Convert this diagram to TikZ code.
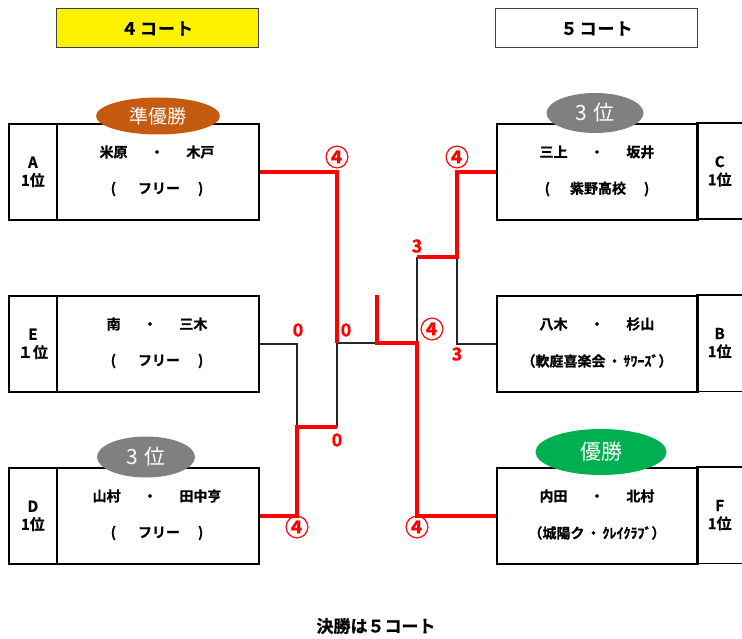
\documentclass[tikz,border=0pt]{standalone}
\usepackage{fontspec}
\setmainfont{Noto Sans CJK JP}[BoldFont={Noto Sans CJK JP Bold}, BoldFeatures={FakeBold=0.8}]
\usetikzlibrary{shapes.geometric}
\definecolor{runnerup}{HTML}{C55A11}
\definecolor{thirdgray}{HTML}{808080}
\definecolor{wingreen}{HTML}{00B050}
\newcommand\sepgap{\hspace{1.6em}・\hspace{1.6em}}
\begin{document}
\begin{tikzpicture}[x=1pt,y=-1pt,
  mainbox/.style={draw, line width=1.8pt, minimum width=202pt, minimum height=96pt, anchor=north west, inner sep=0pt},
  rankbox/.style={draw, line width=1.8pt, minimum width=48pt, minimum height=96pt, anchor=north west, inner sep=0pt, align=center, font=\bfseries\fontsize{15}{18}\selectfont},
  rankopen/.style={minimum width=45pt, minimum height=96pt, anchor=north west, inner sep=0pt, align=center, font=\bfseries\fontsize{15}{18}\selectfont},
  hdr/.style={draw=black!75, line width=1pt, minimum width=202pt, minimum height=39pt, font=\bfseries\fontsize{17}{18}\selectfont},
  nm/.style={font=\bfseries\fontsize{14}{16}\selectfont, inner sep=0pt},
  badge/.style={ellipse, text=white, inner sep=0pt},
  sc/.style={text=red, font=\bfseries\fontsize{18}{18}\selectfont, inner sep=0pt},
  circ/.style={text=red, font=\bfseries\fontsize{24}{24}\selectfont, inner sep=0pt},
  bk/.style={draw=black!85, line width=1.3pt},
  rd/.style={draw=red, line width=4pt}]
\useasboundingbox (0,0) rectangle (742,639);

% headers
\node[hdr, fill=yellow] (h4) at (157,28.5) {４\hspace{2pt}コ\hspace{1pt}ー\hspace{1pt}ト};
\node[hdr, fill=white] (h5) at (596.5,28.5) {５\hspace{2pt}コ\hspace{1pt}ー\hspace{1pt}ト};

% left boxes
\node[rankbox] (Ar) at (8,123) {A\\1位};
\node[mainbox] (Am) at (56,123) {};
\node[rankbox] (Er) at (8,295) {E\\１位};
\node[mainbox] (Em) at (56,295) {};
\node[rankbox] (Dr) at (8,467) {D\\1位};
\node[mainbox] (Dm) at (56,467) {};

% right boxes
\node[mainbox, minimum width=201pt] (Cm) at (496,123) {};
\node[rankopen] (Cr) at (697,123) {C\\1位};
\node[mainbox, minimum width=201pt] (Bm) at (496,295) {};
\node[rankopen] (Br) at (697,295) {B\\1位};
\node[mainbox, minimum width=201pt] (Fm) at (496,467) {};
\node[rankopen] (Fr) at (697,467) {F\\1位};
\foreach \r in {Cr,Br,Fr}{
  \draw[line width=1.8pt] (\r.north east) -- (\r.north west) -- (\r.south west) -- (\r.south east);
}

% names
\node[nm] (An1) at (157,152) {米原\sepgap 木戸};
\node[nm] (An2) at (157,189) {(\hspace{22pt}フリー\hspace{18pt})};
\node[nm] (En1) at (157,324) {南\sepgap 三木};
\node[nm] (En2) at (157,361) {(\hspace{22pt}フリー\hspace{18pt})};
\node[nm] (Dn1) at (157,496) {山村\sepgap 田中亨};
\node[nm] (Dn2) at (157,533) {(\hspace{22pt}フリー\hspace{18pt})};
\node[nm] (Cn1) at (597,152) {三上\sepgap 坂井};
\node[nm] (Cn2) at (597,189) {(\hspace{20pt}紫野高校\hspace{18pt})};
\node[nm] (Bn1) at (597,324) {八木\sepgap 杉山};
\node[nm] (Bn2) at (597,361) {（軟庭喜楽会\hspace{2pt}・\hspace{2pt}ｻﾜｰｽﾞ）};
\node[nm] (Fn1) at (597,496) {内田\sepgap 北村};
\node[nm] (Fn2) at (597,533) {（城陽ク\hspace{2pt}・\hspace{2pt}ｸﾚｲｸﾗﾌﾞ）};

% badges
\node[badge, fill=runnerup, minimum width=124pt, minimum height=37pt, font=\fontsize{19}{20}\selectfont] (b1) at (158,116) {準優勝};
\node[badge, fill=thirdgray, minimum width=97pt, minimum height=40pt, font=\fontsize{21}{21}\selectfont] (b2) at (595,113) {3\hspace{6pt}位};
\node[badge, fill=thirdgray, minimum width=98pt, minimum height=41pt, font=\fontsize{21}{21}\selectfont] (b3) at (146,457) {3\hspace{6pt}位};
\node[badge, fill=wingreen, minimum width=131pt, minimum height=46pt, font=\fontsize{21}{22}\selectfont] (b4) at (601,452) {優勝};

% junctions
\coordinate (jED) at (297,427);
\coordinate (jLb) at (337,427);
\coordinate (jL) at (337,343);
\coordinate (fin) at (377,343);
\coordinate (top) at (377,295);
\coordinate (jR) at (417,343);
\coordinate (jRt) at (417,257);
\coordinate (jCB) at (457,257);

% black connectors
\draw[bk] (Em.east) -| (jED);
\draw[bk] (jLb) -- (jL);
\draw[bk] (jL) -- (fin);
\draw[bk] (Bm.west) -| (jCB);
\draw[bk] (jRt) -- (jR);

% red connectors
\draw[rd] (Dm.east) -| (jED) -- (jLb);
\draw[rd] (Am.east) -| (jL);
\draw[rd] (top) -- (fin) -- (jR) |- (Fm.west);
\draw[rd] (Cm.west) -| (jCB) -- (jRt);

% scores
\node[circ] (s1) at (337,157) {④};
\node[sc] (s2) at (298,330) {0};
\node[sc] (s3) at (346,330) {0};
\node[sc] (s4) at (337,440) {0};
\node[circ] (s5) at (297,527) {④};
\node[circ] (s6) at (457,157) {④};
\node[sc] (s7) at (417,246) {3};
\node[sc] (s8) at (457,354) {3};
\node[circ] (s9) at (432,329) {④};
\node[circ] (s10) at (417,527) {④};

% footer
\node[font=\bfseries\fontsize{17}{18}\selectfont] (ft) at (376,626) {決勝は５コート};
\end{tikzpicture}
\end{document}
